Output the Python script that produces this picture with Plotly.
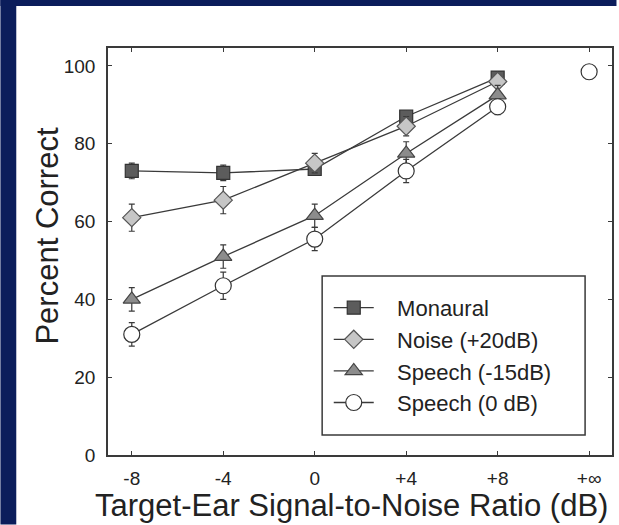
import plotly.graph_objects as go

# ---- data ----
categories = ["-8", "-4", "0", "+4", "+8", "+∞"]
series_names = ["Monaural", "Noise (+20dB)", "Speech (-15dB)", "Speech (0 dB)"]
monaural = [73, 72.5, 73.5, 87, 97]
monaural_err = [2, 2, 1.5, 1.5, 1.5]
noise = [61, 65.5, 75, 84.5, 96]
noise_err = [3.5, 3.5, 2.5, 2.5, 1.5]
speech15 = [40, 51, 61.5, 77.5, 92.5]
speech15_err = [3, 3, 3, 3, 2.5]
speech0 = [31, 43.5, 55.5, 73, 89.5, 98.5]
speech0_err = [3, 3.5, 3, 3, 2, 0]
y_ticks = [0, 20, 40, 60, 80, 100]

FONT = "Liberation Sans, Arial, Helvetica, sans-serif"
NAVY = "#0b1d5b"
LINE = "#3a3a3a"
PAD = "\u00a0\u00a0\u00a0"

fig = go.Figure()

def add_series(name, xs, ys, errs, symbol, fill, size, edge):
    fig.add_trace(go.Scatter(
        x=xs, y=ys, name=PAD + name, mode="lines+markers",
        line=dict(color=LINE, width=1.3),
        marker=dict(symbol=symbol, size=size, color=fill,
                    line=dict(color=edge, width=1.2)),
        error_y=dict(type="data", array=errs, color=LINE, thickness=1.2, width=3),
    ))

n = len(monaural)
add_series(series_names[0], categories[:n], monaural, monaural_err, "square", "#5c5c5c", 13, "#333333")
add_series(series_names[1], categories[:n], noise, noise_err, "diamond", "#c6c6c6", 14, "#555555")
add_series(series_names[2], categories[:n], speech15, speech15_err, "triangle-up", "#8c8c8c", 15, "#444444")
add_series(series_names[3], categories[:n], speech0[:n], speech0_err[:n], "circle", "#ffffff", 16, "#333333")
# isolated +inf point (not connected)
fig.add_trace(go.Scatter(
    x=categories[n:], y=speech0[n:], mode="markers", showlegend=False,
    marker=dict(symbol="circle", size=16, color="#ffffff", line=dict(color="#333333", width=1.2)),
))

axis_common = dict(
    showline=True, linecolor=LINE, linewidth=1.5, mirror="ticks",
    ticks="inside", ticklen=4, tickcolor=LINE, tickwidth=1.2,
    showgrid=False, zeroline=False,
    tickfont=dict(family=FONT, size=19, color="#222222"),
)

# paper-coordinate bounds of the whole 619x525 canvas (kept just inside)
PX0, PX1 = -108 / 506, 510.5 / 506
PY0, PY1 = -69.5 / 407, 455 / 407

fig.update_layout(
    width=619, height=525,
    margin=dict(l=108, r=5, t=48, b=70),
    paper_bgcolor="white", plot_bgcolor="white",
    font=dict(family=FONT, color="#222222"),
    xaxis=dict(type="category", categoryorder="array", categoryarray=categories,
               range=[-0.26, 5.25], ticklabelstandoff=5, **axis_common),
    yaxis=dict(range=[0, 104.6], tickvals=y_ticks, ticklabelstandoff=7, **axis_common),
    legend=dict(x=0.438, y=0.413, xanchor="left", yanchor="top",
                bgcolor="rgba(0,0,0,0)", borderwidth=0,
                font=dict(family=FONT, size=22, color="#222222"),
                itemwidth=40),
    shapes=[
        # navy frame bands (top and left), kept inside the canvas
        dict(type="rect", xref="paper", yref="paper", x0=PX0, x1=PX1, y0=1.103, y1=PY1,
             fillcolor=NAVY, line=dict(width=0), layer="below"),
        dict(type="rect", xref="paper", yref="paper", x0=PX0, x1=-0.182, y0=PY0, y1=PY1,
             fillcolor=NAVY, line=dict(width=0), layer="below"),
        # legend box
        dict(type="rect", xref="paper", yref="paper", x0=0.4249, x1=0.9466, y0=0.0491, y1=0.4398,
             fillcolor="rgba(0,0,0,0)", line=dict(color=LINE, width=1.5), layer="above"),
    ],
    annotations=[
        dict(text="Target-Ear Signal-to-Noise Ratio (dB)", xref="paper", yref="paper",
             x=0.484, y=-0.125, xanchor="center", yanchor="middle", showarrow=False,
             font=dict(family=FONT, size=31, color="#222222")),
        dict(text="Percent Correct", xref="paper", yref="paper", textangle=-90,
             x=-0.12, y=0.538, xanchor="center", yanchor="middle", showarrow=False,
             font=dict(family=FONT, size=31, color="#222222")),
    ],
)

fig.write_html("out.html")
